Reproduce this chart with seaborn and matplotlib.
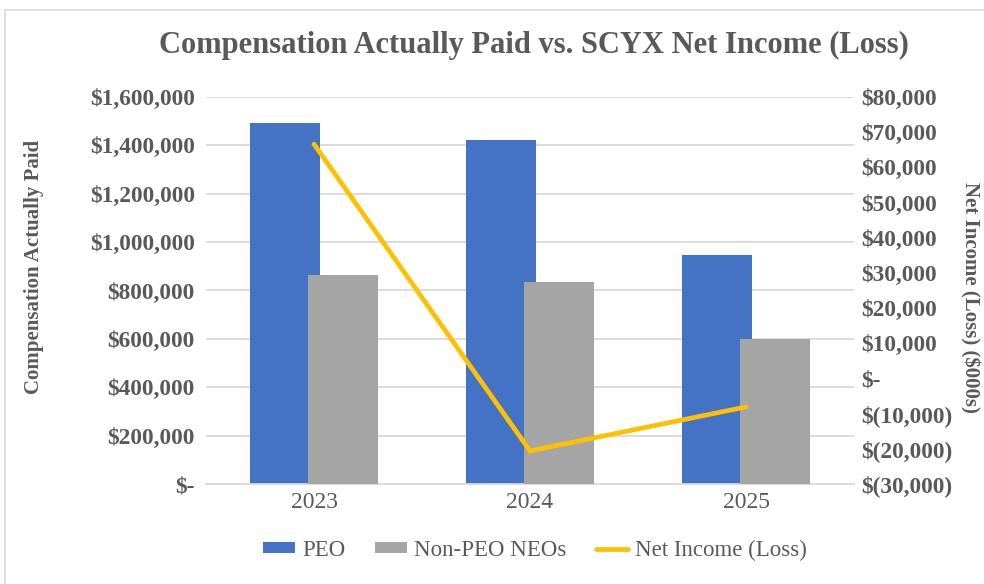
import numpy as np
import pandas as pd
import matplotlib
matplotlib.use("Agg")
import matplotlib.pyplot as plt
import seaborn as sns
from matplotlib.patches import Patch, Rectangle
from matplotlib.lines import Line2D
from matplotlib.ticker import FuncFormatter, MultipleLocator

# ---- data ----
years = ["2023", "2024", "2025"]
peo = [1493000, 1422000, 947000]
non_peo = [866000, 835000, 600000]
net_income = [66600, -20600, -8100]
series_names = ["PEO", "Non-PEO NEOs"]
line_name = "Net Income (Loss)"
title = "Compensation Actually Paid vs. SCYX Net Income (Loss)"
left_label = "Compensation Actually Paid"
right_label = "Net Income (Loss) ($000s)"

BLUE = "#4472C4"
GRAY = "#A5A5A5"
GOLD = "#FFC000"
TXT = "#595959"
GRID = "#D9D9D9"

sns.set_theme(style="white")
plt.rcParams["font.family"] = ["Liberation Serif", "DejaVu Serif"]

df = pd.DataFrame({
    "year": years * 2,
    "value": peo + non_peo,
    "series": [series_names[0]] * len(years) + [series_names[1]] * len(years),
})

fig = plt.figure(figsize=(9.84, 5.84), dpi=100)
ax = fig.add_axes([206 / 984, 1 - 484 / 584, 648 / 984, 387 / 584])

sns.barplot(data=df, x="year", y="value", hue="series", order=years,
            hue_order=series_names, palette=[BLUE, GRAY], width=0.593,
            gap=0, saturation=1, ax=ax, legend=False, linewidth=0)

# widen bars slightly so they overlap (Excel-style overlap), keep outer edges
new_w = 0.324
nb = len(years)
for i, p in enumerate(ax.patches[: 2 * nb]):
    w = p.get_width()
    if i < nb:
        p.set_width(new_w)
        p.set_zorder(2)
    else:
        p.set_x(p.get_x() - (new_w - w))
        p.set_width(new_w)
        p.set_zorder(3)

ax.set_ylim(0, 1600000)
ax.set_xlim(-0.5, len(years) - 0.5)
ax.yaxis.set_major_locator(MultipleLocator(200000))
ax.yaxis.set_major_formatter(FuncFormatter(
    lambda v, _: "$-" if abs(v) < 1 else f"${v:,.0f}"))
ax.grid(axis="y", color=GRID, linewidth=1.3, zorder=0)
ax.set_axisbelow(True)
for s in ["top", "right", "left"]:
    ax.spines[s].set_visible(False)
ax.spines["bottom"].set_color(GRID)
ax.spines["bottom"].set_linewidth(1.3)
ax.tick_params(axis="y", length=0, pad=8, labelsize=16.8, labelcolor=TXT)
ax.tick_params(axis="x", length=0, pad=6, labelsize=17, labelcolor=TXT)
for t in ax.get_yticklabels():
    t.set_fontweight("bold")
ax.set_xlabel("")
ax.set_ylabel(left_label, fontsize=15, fontweight="bold", color=TXT)
ax.yaxis.set_label_coords(-0.250, 0.56)

ax2 = ax.twinx()
line_df = pd.DataFrame({"year": years, "net": net_income})
sns.pointplot(data=line_df, x="year", y="net", order=years, ax=ax2,
              color=GOLD, markers="", linestyles="-")
for ln in ax2.lines:
    ln.set_linewidth(3.4)
    ln.set_solid_capstyle("round")
    ln.set_solid_joinstyle("miter")
ax2.set_xlim(-0.5, len(years) - 0.5)
ax2.set_ylim(-30000, 80000)
ax2.yaxis.set_major_locator(MultipleLocator(10000))
ax2.yaxis.set_major_formatter(FuncFormatter(
    lambda v, _: "$-" if abs(v) < 1 else (f"${v:,.0f}" if v > 0 else f"$({-v:,.0f})")))
ax2.grid(False)
for s in ["top", "right", "left", "bottom"]:
    ax2.spines[s].set_visible(False)
ax2.tick_params(axis="y", length=0, pad=5, labelsize=16.8, labelcolor=TXT)
for t in ax2.get_yticklabels():
    t.set_fontweight("bold")
ax2.set_ylabel(right_label, fontsize=15, fontweight="bold", color=TXT,
               rotation=270)
ax2.yaxis.set_label_coords(1.194, 0.483)
ax2.set_xlabel("")

fig.text(534 / 984, 1 - 45 / 584, title, ha="center", va="center",
         fontsize=22, fontweight="bold", color=TXT)

handles = [Patch(facecolor=BLUE, edgecolor="none"),
           Patch(facecolor=GRAY, edgecolor="none"),
           Line2D([0], [0], color=GOLD, linewidth=3.4)]
fig.legend(handles, series_names + [line_name], loc="center",
           bbox_to_anchor=(535 / 984, 1 - 550 / 584), ncol=3, frameon=False,
           fontsize=16.5, labelcolor=TXT, handlelength=1.4, handleheight=0.4,
           handletextpad=0.3, columnspacing=1.3)

# chart-area border (top and left visible)
fig.patches.append(Rectangle((5 / 984, -0.1), 1.2, 1 - 10 / 584 + 0.1,
                             transform=fig.transFigure, fill=False,
                             edgecolor=GRID, linewidth=1.2))

fig.savefig("out.png", dpi=100)
